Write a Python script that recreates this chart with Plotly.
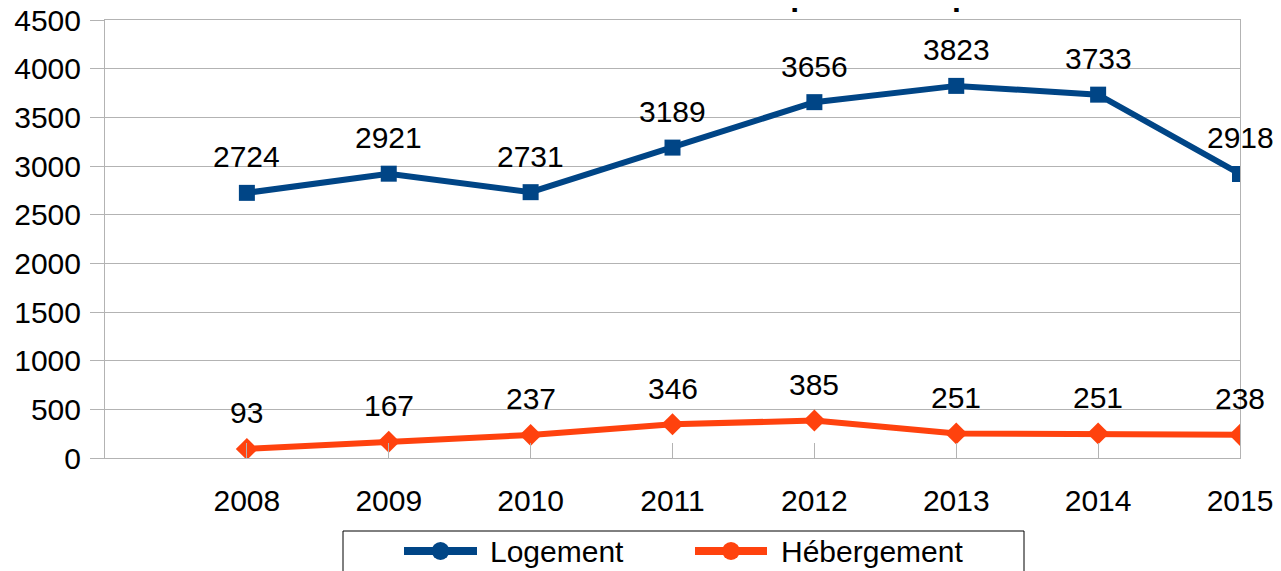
import plotly.graph_objects as go

years = ['2008', '2009', '2010', '2011', '2012', '2013', '2014', '2015']
logement = [2724, 2921, 2731, 3189, 3656, 3823, 3733, 2918]
hebergement = [93, 167, 237, 346, 385, 251, 251, 238]
series_names = ['Logement', 'Hébergement']
title_text = "Nombre de demandes pour le dispositif"

BLUE = '#004586'
ORANGE = '#ff420e'
GRID = '#b3b3b3'
FONT = 'Liberation Sans, Arial, sans-serif'

W, H = 1281, 571
OFF = 8  # page body margin offset
L, R, T, B = 105 - OFF, 1240 - OFF, 20 - OFF, 458 - OFF
pw, ph = R - L, B - T


def px_x(p):
    return (p - OFF - L) / pw


def px_y(p):
    return (B - (p - OFF)) / ph


idx = list(range(len(years)))

fig = go.Figure()
fig.add_trace(go.Scatter(x=idx, y=logement, mode='lines+markers', name=series_names[0],
                         line=dict(color=BLUE, width=6),
                         marker=dict(symbol='square', size=16, color=BLUE),
                         showlegend=False))
fig.add_trace(go.Scatter(x=idx, y=hebergement, mode='lines+markers', name=series_names[1],
                         line=dict(color=ORANGE, width=6),
                         marker=dict(symbol='diamond', size=17, color=ORANGE),
                         showlegend=False))

annotations = []
for series in (logement, hebergement):
    for i, v in zip(idx, series):
        annotations.append(dict(x=i, y=v, xref='x', yref='y', text=str(v),
                                showarrow=False, yshift=36, yanchor='middle',
                                font=dict(size=30, color='black', family=FONT)))
# title (mostly above the visible area, as in the original)
annotations.append(dict(x=px_x(445), y=px_y(14), xref='paper', yref='paper',
                        xanchor='left', yanchor='bottom', showarrow=False,
                        text='<b>' + title_text + '</b>',
                        font=dict(size=32, color='black', family=FONT)))

# legend drawn as a framed box with line+circle symbols
shapes = [dict(type='rect', xref='paper', yref='paper',
               x0=px_x(343), x1=px_x(1024), y0=px_y(531), y1=px_y(600),
               line=dict(color='black', width=1), fillcolor='rgba(0,0,0,0)')]
legend_items = [(series_names[0], BLUE, 404, 477, 488), (series_names[1], ORANGE, 695, 767, 779)]
ly = 551
for name, col, x0, x1, tx in legend_items:
    shapes.append(dict(type='line', xref='paper', yref='paper',
                       x0=px_x(x0), x1=px_x(x1), y0=px_y(ly), y1=px_y(ly),
                       line=dict(color=col, width=8)))
    cx = (x0 + x1) / 2
    shapes.append(dict(type='circle', xref='paper', yref='paper',
                       x0=px_x(cx - 9), x1=px_x(cx + 9), y0=px_y(ly - 9), y1=px_y(ly + 9),
                       line=dict(color=col, width=0), fillcolor=col))
    annotations.append(dict(x=px_x(tx), y=px_y(ly), xref='paper', yref='paper',
                            xanchor='left', yanchor='middle', showarrow=False, text=name,
                            font=dict(size=30, color='black', family=FONT)))

fig.update_layout(
    width=W, height=H,
    margin=dict(l=L, r=W - R, t=T, b=H - B, pad=0, autoexpand=False),
    paper_bgcolor='white', plot_bgcolor='white',
    font=dict(family=FONT, size=30, color='black'),
    annotations=annotations,
    shapes=shapes,
    showlegend=False,
)
fig.update_xaxes(range=[-1, 7], tickmode='array', tickvals=idx, ticktext=years,
                 ticks='inside', ticklen=15, tickcolor=GRID, tickwidth=1,
                 showgrid=False, showline=True, linecolor=GRID, linewidth=1, mirror=True,
                 zeroline=False, ticklabelstandoff=16, automargin=False,
                 ticklabeloverflow='allow',
                 tickfont=dict(size=30, family=FONT, color='black'))
fig.update_yaxes(range=[0, 4500], tickmode='linear', tick0=0, dtick=500,
                 ticks='outside', ticklen=14, tickcolor=GRID, tickwidth=1,
                 showgrid=True, gridcolor=GRID, gridwidth=1,
                 showline=True, linecolor=GRID, linewidth=1, mirror=True,
                 zeroline=False, ticklabelstandoff=3, automargin=False,
                 ticklabeloverflow='allow',
                 tickfont=dict(size=30, family=FONT, color='black'))

fig.write_html('out.html')
